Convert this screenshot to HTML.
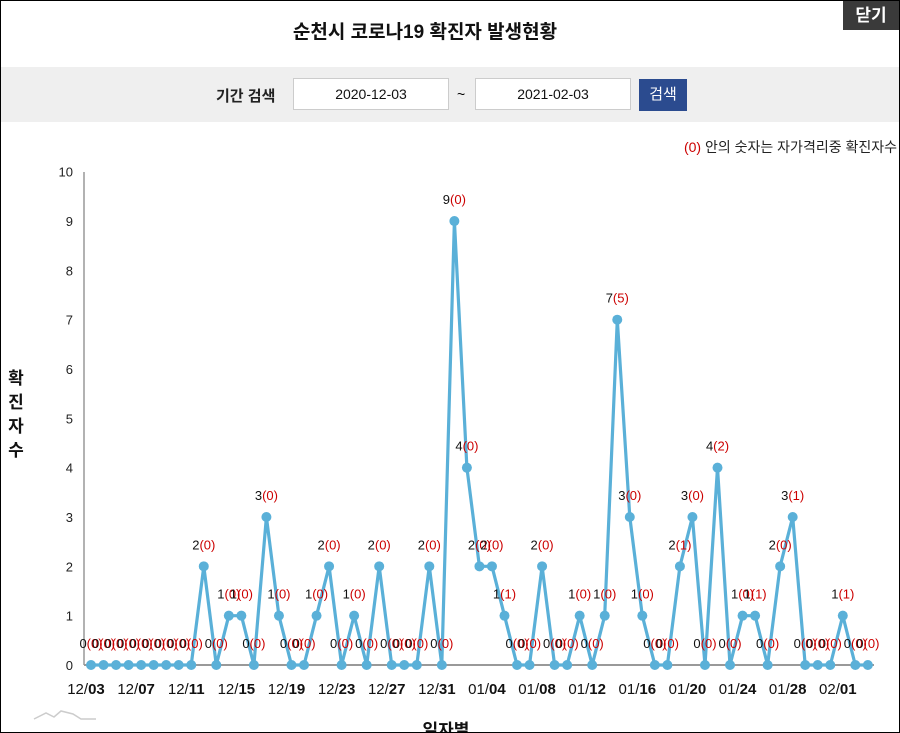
<!DOCTYPE html>
<html><head><meta charset="utf-8">
<style>
html,body{margin:0;padding:0;background:#fff;}
#wrap{position:relative;width:898px;height:731px;border:1px solid #000;overflow:hidden;font-family:"Liberation Sans","Noto Sans CJK KR",sans-serif;}
.title{position:absolute;left:0;width:848px;top:16px;text-align:center;font-size:19px;font-weight:bold;color:#111;}
.close{position:absolute;left:842px;top:0;width:56px;height:29px;background:#3a3a3a;color:#fff;font-size:17px;font-weight:bold;text-align:center;line-height:29px;}
.band{position:absolute;left:0;top:66px;width:898px;height:55px;background:#efefef;}
.lbl{position:absolute;left:215px;top:84px;font-size:15px;font-weight:bold;color:#222;}
.inp{position:absolute;top:11px;height:30px;width:154px;background:#fff;border:1px solid #ccc;text-align:center;line-height:30px;font-size:14px;color:#111;}
.tilde{position:absolute;left:456px;top:85px;font-size:14px;}
.btn{position:absolute;left:638px;top:78px;width:48px;height:32px;background:#2b4b8f;color:#fff;font-size:15px;text-align:center;line-height:32px;}
.note{position:absolute;right:2px;top:136px;font-size:14px;color:#222;}
.note span{color:#c00;}
svg{position:absolute;left:0;top:0;}
</style></head><body>
<div id="wrap">
<div class="title">순천시 코로나19 확진자 발생현황</div>
<div class="close">닫기</div>
<div class="band">
 <div class="inp" style="left:292px">2020-12-03</div>
 <div class="inp" style="left:474px">2021-02-03</div>
</div>
<div class="lbl">기간 검색</div>
<div class="tilde">~</div>
<div class="btn">검색</div>
<div class="note"><span>(0)</span> 안의 숫자는 자가격리중 확진자수</div>
<svg id="c" width="898" height="731" xmlns="http://www.w3.org/2000/svg"></svg>
</div>
<script>
var v=[0,0,0,0,0,0,0,0,0,2,0,1,1,0,3,1,0,0,1,2,0,1,0,2,0,0,0,2,0,9,4,2,2,1,0,0,2,0,0,1,0,1,7,3,1,0,0,2,3,0,4,0,1,1,0,2,3,0,0,0,1,0,0];
var p={31:0,33:1,42:5,47:1,50:2,53:1,56:1,60:1};
var x0=90,dx=12.53,y0=664,dy=49.33;
var s='';
s+='<line x1="83" y1="171" x2="83" y2="664" stroke="#999" stroke-width="1.5"/>';
s+='<line x1="83" y1="664" x2="873" y2="664" stroke="#999" stroke-width="2"/>';
for(var i=0;i<=10;i++){var y=y0-i*dy;s+='<text x="72" y="'+(y+5)+'" font-size="13" text-anchor="end" fill="#222">'+i+'</text>';}
var pts=v.map(function(a,i){return (x0+i*dx).toFixed(1)+','+(y0-a*dy).toFixed(1)}).join(' ');
s+='<polyline points="'+pts+'" fill="none" stroke="#5ab0d8" stroke-width="3.2" stroke-linejoin="round"/>';
var md=["12/03","12/07","12/11","12/15","12/19","12/23","12/27","12/31","01/04","01/08","01/12","01/16","01/20","01/24","01/28","02/01"];
for(var i=0;i<v.length;i++){
 var x=x0+i*dx,y=y0-v[i]*dy;
 s+='<circle cx="'+x+'" cy="'+y+'" r="5" fill="#5ab0d8"/>';
 s+='<text x="'+x+'" y="'+(y-17)+'" font-size="13" text-anchor="middle" fill="#111">'+v[i]+'<tspan fill="#c00">('+(p[i]||0)+')</tspan></text>';
}
for(var k=0;k<md.length;k++){var x=x0+k*4*dx-5;var a=md[k].split('/');
 s+='<text x="'+x+'" y="693" font-size="15" text-anchor="middle" fill="#111">'+a[0]+'/<tspan font-weight="bold">'+a[1]+'</tspan></text>';}
s+='<text x="445" y="735" font-size="17" font-weight="bold" text-anchor="middle" fill="#111">일자별</text>';
var t="확진자수";for(var j=0;j<4;j++)s+='<text x="15" y="'+(383+j*24)+'" font-size="17" font-weight="bold" text-anchor="middle" fill="#111">'+t[j]+'</text>';
s+='<polyline points="33,718 45,712 53,716 60,710 72,713 80,718 95,718" fill="none" stroke="#ccc" stroke-width="1.5"/>';
document.getElementById('c').innerHTML=s;
</script>
</body></html>
